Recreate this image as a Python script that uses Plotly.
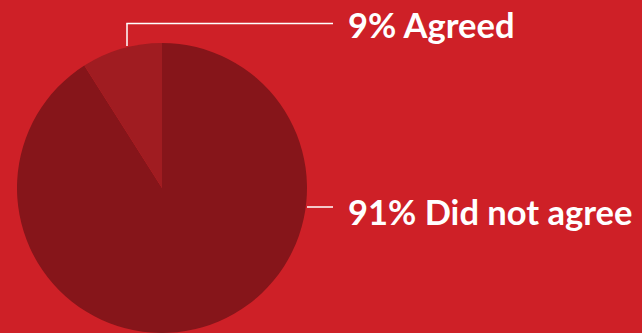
import plotly.graph_objects as go

labels = ["Did not agree", "Agreed"]
values = [91, 9]
label_text = ["91% Did not agree", "9% Agreed"]
slice_colors = ["#86151A", "#A01C21"]
bg = "#CE2027"

W, H = 642, 333
cx, cy, r = 162, 188, 145  # pixel layout of the pie

fig = go.Figure()
fig.add_trace(go.Pie(
    labels=labels, values=values, sort=False, direction="clockwise", rotation=0,
    marker=dict(colors=slice_colors, line=dict(width=0)),
    textinfo="none", hoverinfo="label+percent", showlegend=False,
    domain=dict(x=[(cx - r) / W, (cx + r) / W], y=[max(0, (H - cy - r) / H), (H - cy + r) / H]),
))

def px(x):
    return x / W

def py(y):
    return (H - y) / H

line_style = dict(color="white", width=1.5)
# leader for Agreed
fig.add_shape(type="line", xref="paper", yref="paper", x0=px(127), y0=py(46), x1=px(127), y1=py(23.5), line=line_style)
fig.add_shape(type="line", xref="paper", yref="paper", x0=px(126.3), y0=py(23.5), x1=px(333), y1=py(23.5), line=line_style)
# leader for Did not agree
fig.add_shape(type="line", xref="paper", yref="paper", x0=px(307), y0=py(207), x1=px(333), y1=py(207), line=line_style)

font = dict(family="Lato", size=34.5, color="white", weight="bold")
fig.add_annotation(x=px(346), y=py(25), xref="paper", yref="paper", text=label_text[1],
                   showarrow=False, xanchor="left", yanchor="middle", font=font)
fig.add_annotation(x=px(346), y=py(211), xref="paper", yref="paper", text=label_text[0],
                   showarrow=False, xanchor="left", yanchor="middle", font=font)

fig.update_layout(width=W, height=H, margin=dict(l=0, r=0, t=0, b=0),
                  paper_bgcolor=bg, plot_bgcolor=bg)
fig.write_html("out.html")
